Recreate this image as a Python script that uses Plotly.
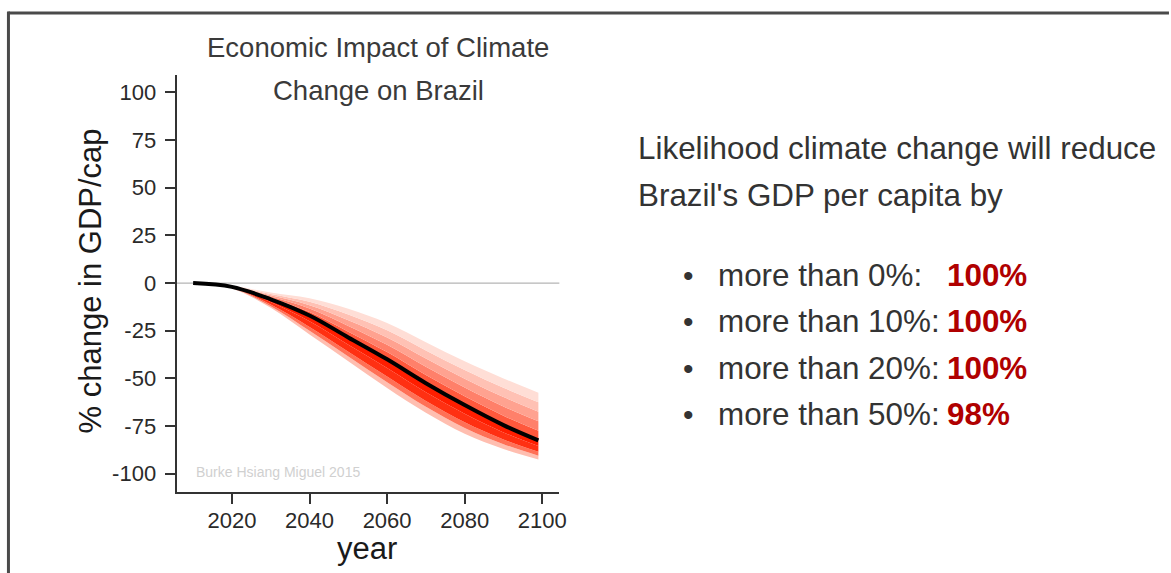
import plotly.graph_objects as go

# ---------------- data ----------------
years = [2010, 2020, 2030, 2040, 2050, 2060, 2070, 2080, 2090, 2099]
# estimated quantiles of % change in GDP/cap
q01 = [0, -2.80, -13.0, -27.0, -41.0, -55.0, -68.0, -79.0, -87.0, -92.5]
q05 = [0, -2.64, -12.1, -25.0, -38.5, -52.0, -64.9, -76.0, -84.5, -90.5]
q15 = [0, -2.50, -11.2, -23.0, -36.0, -49.0, -61.8, -73.0, -82.0, -88.5]
q30 = [0, -2.20, -9.9, -20.0, -32.3, -44.5, -57.2, -68.5, -78.3, -85.5]
q50 = [0, -2.00, -8.5, -17.0, -28.5, -40.0, -52.5, -64.0, -74.5, -82.5]
q62 = [0, -1.90, -7.8, -15.2, -25.5, -36.2, -48.2, -59.4, -69.6, -77.5]
q75 = [0, -1.80, -7.1, -13.4, -22.5, -32.4, -43.9, -54.8, -64.7, -72.5]
q85 = [0, -1.60, -6.4, -11.6, -19.5, -28.6, -39.6, -50.2, -59.8, -67.5]
q93 = [0, -1.50, -5.7, -9.8, -16.5, -24.8, -35.3, -45.6, -54.9, -62.5]
q99 = [0, -1.40, -5.0, -8.0, -13.5, -21.0, -31.0, -41.0, -50.0, -57.5]

x_ticks = [2020, 2040, 2060, 2080, 2100]
y_ticks = [100, 75, 50, 25, 0, -25, -50, -75, -100]

thresholds = [0, 10, 20, 50]
likelihood = [100, 100, 100, 98]

title_lines = ["Economic Impact of Climate", "Change on Brazil"]
side_lines = ["Likelihood climate change will reduce", "Brazil's GDP per capita by"]

# ---------------- helpers ----------------
W, H = 1171, 573
def X(px):
    return px / W
def Y(py):
    return 1 - py / H

FONT = "Liberation Sans, Arial, Helvetica, sans-serif"
slice_colors = [
    "rgb(255,190,176)",  # q01-q05
    "rgb(255,112,86)",   # q05-q15
    "rgb(255,48,18)",    # q15-q30
    "rgb(255,30,0)",     # q30-q50
    "rgb(255,88,60)",    # q50-q62
    "rgb(255,128,106)",  # q62-q75
    "rgb(255,162,144)",  # q75-q85
    "rgb(255,193,180)",  # q85-q93
    "rgb(255,222,214)",  # q93-q99
]

fig = go.Figure()

fig.add_hline(y=0, line=dict(color="#b5b5b5", width=1.3), layer="below")

quants = [q01, q05, q15, q30, q50, q62, q75, q85, q93, q99]
fig.add_trace(go.Scatter(x=years, y=quants[0], mode="lines",
                         line=dict(width=0, shape="spline", smoothing=1.0),
                         hoverinfo="skip", showlegend=False))
for q, col in zip(quants[1:], slice_colors):
    fig.add_trace(go.Scatter(x=years, y=q, mode="lines", fill="tonexty",
                             fillcolor=col,
                             line=dict(width=0, shape="spline", smoothing=1.0),
                             hoverinfo="skip", showlegend=False))

fig.add_trace(go.Scatter(x=years, y=q50, mode="lines",
                         line=dict(color="black", width=4, shape="spline", smoothing=1.0),
                         showlegend=False))

left, right, top, bottom = 177.7, 562.7, 75, 491.5

axis_common = dict(showline=True, linecolor="#333333", linewidth=2.2,
                   ticks="outside", ticklen=10, tickwidth=2, tickcolor="#333333",
                   showgrid=False, zeroline=False,
                   tickfont=dict(family=FONT, size=22, color="#2a2a2a"))

fig.update_layout(
    width=W, height=H,
    margin=dict(l=0, r=0, t=0, b=0),
    paper_bgcolor="white", plot_bgcolor="white",
    xaxis=dict(domain=[X(left), X(right)], range=[2005.75, 2104.4],
               tickvals=x_ticks, ticktext=[str(v) for v in x_ticks],
               ticklabelstandoff=-2, **axis_common),
    yaxis=dict(domain=[Y(bottom), Y(top)], range=[-109.3, 109.1],
               tickvals=y_ticks, ticktext=[str(v) for v in y_ticks],
               ticklabelstandoff=4, **axis_common),
    showlegend=False,
)

ann = []
for i, t in enumerate(title_lines):
    ann.append(dict(x=X(380.5), y=Y(48 + 42 * i), xref="paper", yref="paper",
                    text=t, showarrow=False, xanchor="center", yanchor="middle",
                    font=dict(family=FONT, size=27.5, color="#3a3a3a")))
ann.append(dict(x=X(91), y=Y(281), xref="paper", yref="paper",
                text="% change in GDP/cap", textangle=-90, showarrow=False,
                xanchor="center", yanchor="middle",
                font=dict(family=FONT, size=31, color="#1a1a1a")))
ann.append(dict(x=X(369), y=Y(548), xref="paper", yref="paper",
                text="year", showarrow=False, xanchor="center", yanchor="middle",
                font=dict(family=FONT, size=31, color="#1a1a1a")))
ann.append(dict(x=X(195), y=Y(472), xref="paper", yref="paper",
                text="Burke Hsiang Miguel 2015", showarrow=False,
                xanchor="left", yanchor="middle",
                font=dict(family=FONT, size=14, color="#d0d0d0")))
for i, t in enumerate(side_lines):
    ann.append(dict(x=X(640), y=Y(148 + 47 * i), xref="paper", yref="paper",
                    text=t, showarrow=False, xanchor="left", yanchor="middle",
                    font=dict(family=FONT, size=31.4, color="#333333")))
for i, (th, lk) in enumerate(zip(thresholds, likelihood)):
    yc = 275 + 46.5 * i
    ann.append(dict(x=X(693), y=Y(yc), xref="paper", yref="paper",
                    text="\u2022", showarrow=False, xanchor="center", yanchor="middle",
                    font=dict(family=FONT, size=30, color="#333333")))
    ann.append(dict(x=X(720), y=Y(yc), xref="paper", yref="paper",
                    text=f"more than {th}%:", showarrow=False,
                    xanchor="left", yanchor="middle",
                    font=dict(family=FONT, size=31.4, color="#333333")))
    ann.append(dict(x=X(951), y=Y(yc), xref="paper", yref="paper",
                    text=f"<b>{lk}%</b>", showarrow=False,
                    xanchor="left", yanchor="middle",
                    font=dict(family=FONT, size=31.4, color="#b00000")))
fig.update_layout(annotations=ann)

fig.add_shape(type="line", xref="paper", yref="paper",
              x0=X(8.5), y0=Y(13), x1=X(W + 5), y1=Y(13),
              line=dict(color="#4a4a4a", width=3))
fig.add_shape(type="line", xref="paper", yref="paper",
              x0=X(8.5), y0=Y(11.5), x1=X(8.5), y1=Y(H + 5),
              line=dict(color="#4a4a4a", width=3))

fig.write_html("out.html")
